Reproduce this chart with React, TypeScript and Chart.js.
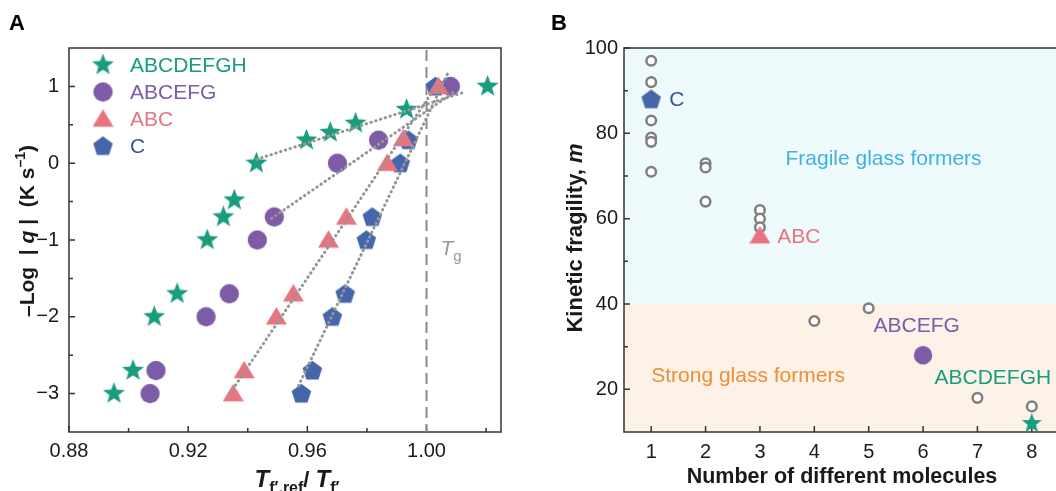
import React, { useEffect, useRef } from 'react';
import { Chart, registerables } from 'chart.js';
Chart.register(...registerables);

// ---------- Panel A data ----------
const abcdefghX = [0.8951, 0.9015, 0.9086, 0.9163, 0.9264, 0.9318, 0.9355, 0.9429, 0.9597, 0.9677, 0.9762, 0.9933, 1.0205];
const abcdefghY = [-3, -2.7, -2, -1.7, -1, -0.7, -0.48, 0, 0.3, 0.4, 0.52, 0.7, 1];
const abcefgX = [0.9072, 0.9092, 0.926, 0.9338, 0.9432, 0.9489, 0.9701, 0.9839, 1.008];
const abcefgY = [-3, -2.7, -2, -1.7, -1, -0.7, 0, 0.3, 1];
const abcX = [0.9351, 0.9388, 0.9496, 0.9553, 0.9671, 0.9731, 0.9868, 0.9922, 1.004];
const abcY = [-3, -2.7, -2, -1.7, -1, -0.7, 0, 0.32, 1];
const cX = [0.958, 0.9617, 0.9684, 0.9727, 0.9798, 0.9818, 0.9912, 0.9939, 1.003];
const cY = [-3, -2.7, -2, -1.7, -1, -0.7, 0, 0.3, 1];

// dotted fit lines (end points)
const fitGreenX = [0.943, 1.013];
const fitGreenY = [0.05, 0.93];
const fitPurpleX = [0.948, 1.009];
const fitPurpleY = [-0.72, 0.92];
const fitRedX = [0.934, 1.004];
const fitRedY = [-3.0, 1.05];
const fitBlueX = [0.957, 1.0075];
const fitBlueY = [-2.9, 1.2];

const xTicksA = [0.88, 0.92, 0.96, 1.0];
const xMinorA = [0.9, 0.94, 0.98, 1.02];
const yTicksA = [-3, -2, -1, 0, 1];
const yMinorA = [-2.5, -1.5, -0.5, 0.5];
const tgValue = 1.0;

// ---------- Panel B data ----------
const otherX = [1, 1, 1, 1, 1, 1, 2, 2, 2, 3, 3, 3, 4, 5, 7, 8];
const otherY = [97, 92, 83, 79, 78, 71, 73, 72, 64, 62, 60, 58, 36, 39, 18, 16];
const bC = [{ x: 1, y: 88 }];
const bABC = [{ x: 3, y: 56 }];
const bABCEFG = [{ x: 6, y: 28 }];
const bABCDEFGH = [{ x: 8, y: 12 }];
const xTicksB = [1, 2, 3, 4, 5, 6, 7, 8];
const yTicksB = [20, 40, 60, 80, 100];
const yMinorB = [30, 50, 70, 90];
const regionSplit = 40;

const GREEN = '#1a9c7e';
const PURPLE = '#7d5ba6';
const PINK = '#e8747f';
const BLUE = '#4666ac';
const FF = '"Liberation Sans", Arial, sans-serif';
const TXT = '#1a1a1a';

type Part = { t: string; font: string; dy?: number; color?: string };

function drawRich(ctx: CanvasRenderingContext2D, parts: Part[], x: number, y: number, align: 'left' | 'center', color = TXT) {
  let w = 0;
  for (const p of parts) { ctx.font = p.font; w += ctx.measureText(p.t).width; }
  let cx = align === 'center' ? x - w / 2 : x;
  ctx.textAlign = 'left';
  for (const p of parts) {
    ctx.font = p.font;
    ctx.fillStyle = p.color || color;
    ctx.fillText(p.t, cx, y + (p.dy || 0));
    cx += ctx.measureText(p.t).width;
  }
}

function marker(shape: string, color: string, size: number): HTMLCanvasElement {
  const c = document.createElement('canvas');
  c.width = size; c.height = size;
  const g = c.getContext('2d')!;
  const r = size / 2;
  g.translate(r, r);
  g.fillStyle = color;
  g.beginPath();
  if (shape === 'star') {
    for (let i = 0; i < 10; i++) {
      const rad = i % 2 ? r * 0.42 : r;
      const a = -Math.PI / 2 + (i * Math.PI) / 5;
      g.lineTo(rad * Math.cos(a), rad * Math.sin(a));
    }
  } else if (shape === 'pentagon') {
    for (let i = 0; i < 5; i++) {
      const a = -Math.PI / 2 + (i * 2 * Math.PI) / 5;
      g.lineTo(r * 0.98 * Math.cos(a), r * 0.98 * Math.sin(a) + r * 0.06);
    }
  } else if (shape === 'triangle') {
    const h = size * 0.84;
    g.moveTo(0, -h / 2 - 1);
    g.lineTo(r, h / 2 - 1);
    g.lineTo(-r, h / 2 - 1);
  } else {
    g.arc(0, 0, r * 0.92, 0, Math.PI * 2);
  }
  g.closePath();
  g.fill();
  return c;
}

function pts(xs: number[], ys: number[]) {
  return xs.map((x, i) => ({ x, y: ys[i] }));
}

function frameAndTicks(chart: any, xMaj: number[], xMin: number[], yMaj: number[], yMin: number[]) {
  const { ctx, chartArea: a, scales } = chart;
  ctx.save();
  ctx.strokeStyle = '#333';
  ctx.lineWidth = 1.5;
  ctx.strokeRect(a.left, a.top, a.right - a.left, a.bottom - a.top);
  ctx.beginPath();
  for (const v of xMaj) { const px = scales.x.getPixelForValue(v); ctx.moveTo(px, a.bottom); ctx.lineTo(px, a.bottom - 6); }
  for (const v of xMin) { const px = scales.x.getPixelForValue(v); ctx.moveTo(px, a.bottom); ctx.lineTo(px, a.bottom - 4); }
  for (const v of yMaj) { const py = scales.y.getPixelForValue(v); ctx.moveTo(a.left, py); ctx.lineTo(a.left + 6, py); }
  for (const v of yMin) { const py = scales.y.getPixelForValue(v); ctx.moveTo(a.left, py); ctx.lineTo(a.left + 4, py); }
  ctx.stroke();
  ctx.restore();
}

const fmtMinus = (v: number) => (v < 0 ? '\u2212' + Math.abs(v) : String(v));

export default function App() {
  const refA = useRef<HTMLCanvasElement>(null);
  const refB = useRef<HTMLCanvasElement>(null);

  useEffect(() => {
    const starA = marker('star', GREEN, 23);
    const circA = marker('circle', PURPLE, 21);
    const triA = marker('triangle', PINK, 21);
    const pentA = marker('pentagon', BLUE, 21);

    const tickFont = { family: FF, size: 20 };
    const lineDs = (xs: number[], ys: number[]) => ({
      type: 'line' as const,
      data: pts(xs, ys),
      showLine: true,
      borderColor: '#969696',
      borderWidth: 3,
      borderDash: [0.5, 4.5],
      borderCapStyle: 'round' as const,
      pointRadius: 0,
      fill: false,
      tension: 0,
    });
    const markDs = (data: any[], img: HTMLCanvasElement) => ({
      data,
      pointStyle: img,
      pointRadius: 10,
      backgroundColor: 'transparent',
      borderWidth: 0,
      clip: false as any,
    });

    const chartA = new Chart(refA.current!, {
      type: 'scatter',
      data: {
        datasets: [
          lineDs(fitGreenX, fitGreenY),
          lineDs(fitPurpleX, fitPurpleY),
          lineDs(fitRedX, fitRedY),
          lineDs(fitBlueX, fitBlueY),
          markDs(pts(abcX, abcY), triA),
          markDs(pts(cX, cY), pentA),
          markDs(pts(abcefgX, abcefgY), circA),
          markDs(pts(abcdefghX, abcdefghY), starA),
        ] as any,
      },
      options: {
        responsive: false,
        animation: false,
        devicePixelRatio: 1,
        layout: { padding: { top: 48, right: 19, left: 0, bottom: 0 } },
        plugins: { legend: { display: false }, tooltip: { enabled: false } },
        scales: {
          x: {
            type: 'linear', min: 0.88, max: 1.025,
            grid: { display: false, drawTicks: false }, border: { display: false },
            ticks: { font: tickFont, color: TXT, padding: 7, callback: (v: any) => Number(v).toFixed(2) },
            afterBuildTicks: (s: any) => { s.ticks = xTicksA.map((v) => ({ value: v })); },
            afterFit: (s: any) => { s.height = 59; },
          },
          y: {
            type: 'linear', min: -3.5, max: 1.5,
            grid: { display: false, drawTicks: false }, border: { display: false },
            ticks: { font: tickFont, color: TXT, padding: 10, callback: (v: any) => fmtMinus(Number(v)) },
            afterBuildTicks: (s: any) => { s.ticks = yTicksA.map((v) => ({ value: v })); },
            afterFit: (s: any) => { s.width = 69; },
          },
        },
      },
      plugins: [
        {
          id: 'decorA',
          beforeDatasetsDraw(chart: any) {
            const { ctx, chartArea: a, scales } = chart;
            frameAndTicks(chart, xTicksA, xMinorA, yTicksA, yMinorA);
            const px = scales.x.getPixelForValue(tgValue);
            ctx.save();
            ctx.strokeStyle = '#8a8a8a';
            ctx.lineWidth = 2;
            ctx.setLineDash([11, 6]);
            ctx.beginPath();
            ctx.moveTo(px, a.top + 2);
            ctx.lineTo(px, a.bottom);
            ctx.stroke();
            ctx.setLineDash([]);
            ctx.textBaseline = 'alphabetic';
            drawRich(ctx, [
              { t: 'T', font: `italic 21px ${FF}` },
              { t: 'g', font: `15px ${FF}`, dy: 6 },
            ], px + 14, scales.y.getPixelForValue(-1.2), 'left', '#999');
            ctx.restore();
          },
          afterDraw(chart: any) {
            const { ctx, chartArea: a } = chart;
            ctx.save();
            // legend
            const items: [HTMLCanvasElement, string, string][] = [
              [starA, 'ABCDEFGH', GREEN],
              [circA, 'ABCEFG', PURPLE],
              [triA, 'ABC', PINK],
              [pentA, 'C', '#3b5597'],
            ];
            items.forEach(([img, label, col], i) => {
              const y = 65 + i * 27;
              ctx.drawImage(img, 103 - img.width / 2, y - img.height / 2);
              ctx.font = `21px ${FF}`;
              ctx.fillStyle = col;
              ctx.textAlign = 'left';
              ctx.textBaseline = 'middle';
              ctx.fillText(label, 130, y + 1);
            });
            // panel letter
            ctx.textBaseline = 'alphabetic';
            ctx.font = `bold 22px ${FF}`;
            ctx.fillStyle = '#000';
            ctx.fillText('A', 9, 30);
            // x title
            drawRich(ctx, [
              { t: 'T', font: `italic bold 24px ${FF}` },
              { t: 'f\u2032,ref', font: `bold 16px ${FF}`, dy: 6 },
              { t: '/ ', font: `bold 22px ${FF}` },
              { t: 'T', font: `italic bold 24px ${FF}` },
              { t: 'f\u2032', font: `bold 16px ${FF}`, dy: 6 },
            ], (a.left + a.right) / 2 + 12, 487, 'center');
            // y title
            ctx.translate(28, 231);
            ctx.rotate(-Math.PI / 2);
            ctx.textBaseline = 'middle';
            drawRich(ctx, [
              { t: '\u2013Log  | ', font: `bold 21px ${FF}` },
              { t: 'q', font: `italic bold 21px ${FF}` },
              { t: ' |  (K s', font: `bold 21px ${FF}` },
              { t: '\u20131', font: `bold 14px ${FF}`, dy: -7 },
              { t: ')', font: `bold 21px ${FF}` },
            ], 0, 0, 'center');
            ctx.restore();
          },
        },
      ],
    });

    // ---------- Panel B ----------
    const pentB = marker('pentagon', BLUE, 21);
    const triB = marker('triangle', PINK, 21);
    const circB = marker('circle', PURPLE, 20);
    const starB = marker('star', GREEN, 21);

    const chartB = new Chart(refB.current!, {
      type: 'scatter',
      data: {
        datasets: [
          markDs(bABCDEFGH, starB),
          markDs(bABCEFG, circB),
          markDs(bABC, triB),
          markDs(bC, pentB),
          {
            data: pts(otherX, otherY),
            pointStyle: 'circle',
            pointRadius: 4.8,
            borderWidth: 2.5,
            borderColor: '#7f7f7f',
            backgroundColor: '#ffffff',
            clip: false as any,
          },
        ] as any,
      },
      options: {
        responsive: false,
        animation: false,
        devicePixelRatio: 1,
        layout: { padding: { top: 48, right: 11, left: 0, bottom: 0 } },
        plugins: { legend: { display: false }, tooltip: { enabled: false } },
        scales: {
          x: {
            type: 'linear', min: 0.5, max: 8.5,
            grid: { display: false, drawTicks: false }, border: { display: false },
            ticks: { font: tickFont, color: TXT, padding: 8 },
            afterBuildTicks: (s: any) => { s.ticks = xTicksB.map((v) => ({ value: v })); },
            afterFit: (s: any) => { s.height = 59; },
          },
          y: {
            type: 'linear', min: 10, max: 100,
            grid: { display: false, drawTicks: false }, border: { display: false },
            ticks: { font: tickFont, color: TXT, padding: 6 },
            afterBuildTicks: (s: any) => { s.ticks = yTicksB.map((v) => ({ value: v })); },
            afterFit: (s: any) => { s.width = 94; },
          },
        },
      },
      plugins: [
        {
          id: 'decorB',
          beforeDatasetsDraw(chart: any) {
            const { ctx, chartArea: a, scales } = chart;
            const ySplit = scales.y.getPixelForValue(regionSplit);
            ctx.save();
            ctx.fillStyle = '#effafd';
            ctx.fillRect(a.left, a.top, a.right - a.left, ySplit - a.top);
            ctx.fillStyle = '#fdf2e8';
            ctx.fillRect(a.left, ySplit, a.right - a.left, a.bottom - ySplit);
            ctx.restore();
            frameAndTicks(chart, xTicksB, [], yTicksB, yMinorB);
          },
          afterDraw(chart: any) {
            const { ctx, scales } = chart;
            const X = (v: number) => scales.x.getPixelForValue(v);
            const Y = (v: number) => scales.y.getPixelForValue(v);
            ctx.save();
            ctx.textBaseline = 'middle';
            ctx.textAlign = 'left';
            ctx.font = `21px ${FF}`;
            const labels: [string, number, number, string][] = [
              ['C', 1.33, 88, '#3b5597'],
              ['ABC', 3.32, 56, PINK],
              ['ABCEFG', 5.09, 35, PURPLE],
              ['ABCDEFGH', 6.21, 22.9, GREEN],
              ['Fragile glass formers', 3.47, 74.2, '#3fb2e2'],
              ['Strong glass formers', 1.0, 23.4, '#f08d35'],
            ];
            for (const [t, x, y, c] of labels) {
              ctx.fillStyle = c;
              ctx.fillText(t, X(x), Y(y) + 1);
            }
            ctx.textBaseline = 'alphabetic';
            ctx.font = `bold 22px ${FF}`;
            ctx.fillStyle = '#000';
            ctx.fillText('B', 21, 30);
            ctx.font = `bold 21.5px ${FF}`;
            ctx.textAlign = 'center';
            ctx.fillStyle = TXT;
            ctx.fillText('Number of different molecules', 842 - 530, 483);
            ctx.translate(576 - 530, 238);
            ctx.rotate(-Math.PI / 2);
            ctx.textBaseline = 'middle';
            drawRich(ctx, [
              { t: 'Kinetic fragility, ', font: `bold 22px ${FF}` },
              { t: 'm', font: `italic bold 22px ${FF}` },
            ], 0, 0, 'center');
            ctx.restore();
          },
        },
      ],
    });

    return () => {
      chartA.destroy();
      chartB.destroy();
    };
  }, []);

  return (
    <div style={{ position: 'fixed', left: 0, top: 0, width: 1056, height: 491, overflow: 'hidden', background: '#fff' }}>
      <canvas ref={refA} width={520} height={491} style={{ position: 'absolute', left: 0, top: 0, width: 520, height: 491 }} />
      <canvas ref={refB} width={540} height={491} style={{ position: 'absolute', left: 530, top: 0, width: 540, height: 491 }} />
    </div>
  );
}
